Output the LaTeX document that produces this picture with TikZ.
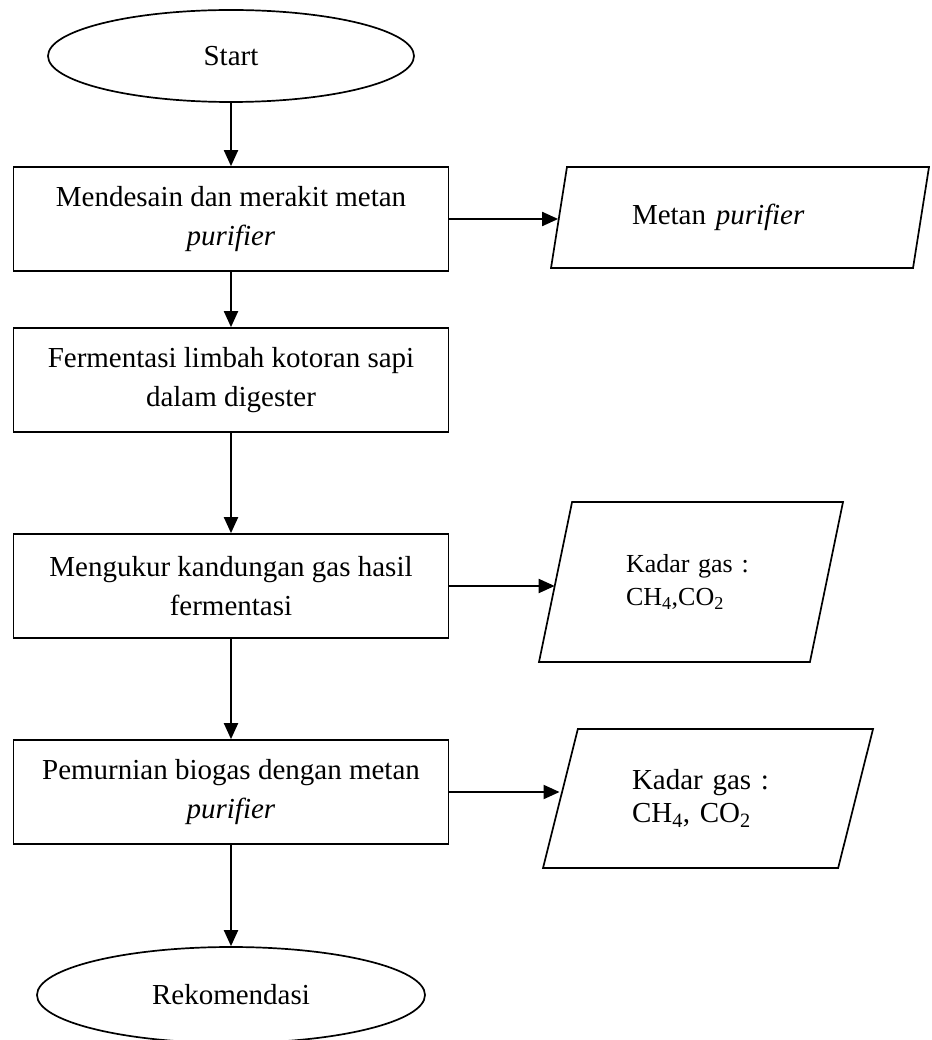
\documentclass[tikz,border=0pt]{standalone}
\usepackage{fontspec}
\setmainfont{Liberation Serif}
\usetikzlibrary{shapes.geometric,arrows.meta}

\begin{document}
\begin{tikzpicture}[x=1pt,y=-1pt,line width=1.7pt,
    every node/.style={font=\fontsize{29}{39}\selectfont},
    proses/.style={draw,rectangle,minimum width=435pt,minimum height=104pt,align=center,inner sep=0pt},
    ujung/.style={draw,ellipse,inner sep=0pt},
    data/.style={draw,trapezium,trapezium left angle=59,trapezium right angle=121,trapezium stretches body,inner sep=0pt,align=left},
    panah/.style={line width=2pt,-{Triangle[length=16pt,width=14pt]}}]
            \useasboundingbox (0,0) rectangle (931,1040);
            \node[ujung,minimum width=366pt,minimum height=92pt] (start) at (231,56) {Start};
            \node[proses] (desain) at (231,219) {Mendesain dan merakit metan\\\textit{purifier}};
            \node[proses] (fermentasi) at (231,380) {Fermentasi limbah kotoran sapi\\dalam digester};
            \node[proses] (ukur) at (231,586) {Mengukur kandungan gas hasil\\fermentasi};
            \node[proses] (murni) at (231,792) {Pemurnian biogas dengan metan\\\textit{purifier}};
            \node[ujung,minimum width=388pt,minimum height=96pt] (rekomendasi) at (231,995) {Rekomendasi};
            \node[data,minimum width=378pt,minimum height=101pt,text width=216pt] (metan) at (740,217.5) {Metan \textit{purifier}};
            \node[data,minimum width=304pt,minimum height=160pt,text width=130pt,font=\fontsize{26}{33}\selectfont] (kadar1) at (691,582) {Kadar gas :\\CH\textsubscript{4},CO\textsubscript{2}};
            \node[data,minimum width=330pt,minimum height=139pt,text width=152pt,font=\fontsize{29}{33}\selectfont] (kadar2) at (708,798.5) {Kadar gas :\\CH\textsubscript{4}, CO\textsubscript{2}};
            \draw[panah] (start) -- (desain);
            \draw[panah] (desain) -- (fermentasi);
            \draw[panah] (fermentasi) -- (ukur);
            \draw[panah] (ukur) -- (murni);
            \draw[panah] (murni) -- (rekomendasi);
            \draw[panah] (desain.east) -- (desain.east -| metan.west);
            \draw[panah] (ukur.east) -- (ukur.east -| kadar1.west);
            \draw[panah] (murni.east) -- (murni.east -| kadar2.west);
\end{tikzpicture}
\end{document}
